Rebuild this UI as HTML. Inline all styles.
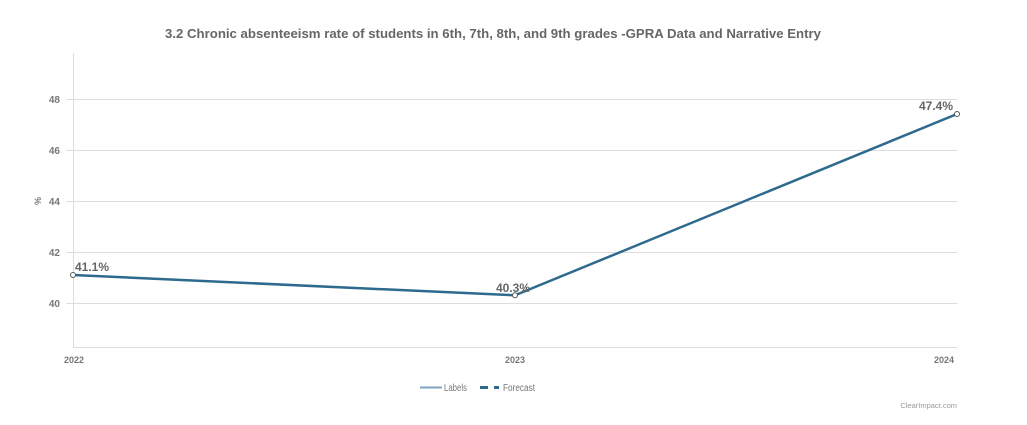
<!DOCTYPE html>
<html><head><style>
body{margin:0;background:#fff;}
svg{display:block;font-family:"Liberation Sans",sans-serif;}
</style></head><body>
<svg width="1027" height="425" viewBox="0 0 1027 425">
<text x="493" y="38" text-anchor="middle" font-size="13" font-weight="bold" fill="#666" textLength="656" lengthAdjust="spacingAndGlyphs">3.2 Chronic absenteeism rate of students in 6th, 7th, 8th, and 9th grades -GPRA Data and Narrative Entry</text>
<g stroke="#ddd" stroke-width="1">
<line x1="66" y1="99.5" x2="957" y2="99.5"/>
<line x1="66" y1="150.5" x2="957" y2="150.5"/>
<line x1="66" y1="201.5" x2="957" y2="201.5"/>
<line x1="66" y1="252.5" x2="957" y2="252.5"/>
<line x1="66" y1="303.5" x2="957" y2="303.5"/>
<line x1="73.5" y1="53" x2="73.5" y2="347"/>
<line x1="73" y1="347.5" x2="957" y2="347.5"/>
</g>
<g font-size="10" font-weight="bold" fill="#777" text-anchor="end">
<text x="60" y="103">48</text>
<text x="60" y="154">46</text>
<text x="60" y="205">44</text>
<text x="60" y="256">42</text>
<text x="60" y="307">40</text>
</g>
<text x="0" y="0" font-size="9" font-weight="bold" fill="#777" transform="translate(41,201) rotate(-90)" text-anchor="middle">%</text>
<g font-size="9" font-weight="bold" fill="#777" text-anchor="middle">
<text x="74" y="363">2022</text>
<text x="515" y="363">2023</text>
<text x="944" y="363">2024</text>
</g>
<polyline points="73,275 515,295.3 957,114" fill="none" stroke="#2e6a8e" stroke-width="2.5"/>
<g fill="#fff" stroke="#555" stroke-width="1">
<circle cx="73" cy="275" r="2.5"/><circle cx="515" cy="295.3" r="2.5"/><circle cx="957" cy="114" r="2.5"/>
</g>
<g font-size="12" font-weight="bold" fill="#666">
<text x="75" y="271">41.1%</text>
<text x="496" y="292">40.3%</text>
<text x="919" y="110">47.4%</text>
</g>
<line x1="420" y1="387.5" x2="442" y2="387.5" stroke="#7fa3c0" stroke-width="2"/>
<text x="444" y="391" font-size="10" fill="#777" textLength="23" lengthAdjust="spacingAndGlyphs">Labels</text>
<line x1="480" y1="387.5" x2="488" y2="387.5" stroke="#2e6a8e" stroke-width="3"/>
<line x1="494" y1="387.5" x2="499" y2="387.5" stroke="#2e6a8e" stroke-width="3"/>
<text x="503" y="391" font-size="10" fill="#777" textLength="32" lengthAdjust="spacingAndGlyphs">Forecast</text>
<text x="957" y="408" font-size="7.5" fill="#999" text-anchor="end">ClearImpact.com</text>
</svg>
</body></html>
